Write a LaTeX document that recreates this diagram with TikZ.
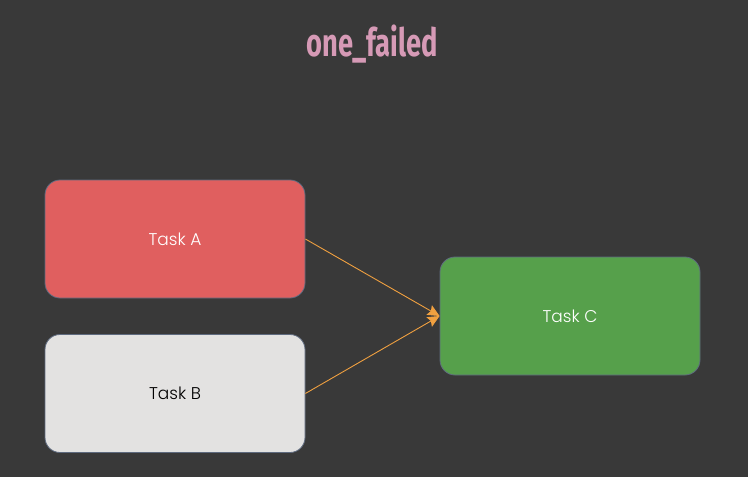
\documentclass[tikz,border=0pt]{standalone}
\usepackage{fontspec}
\setmainfont{Poppins}[UprightFont=* Light]
\newfontfamily\titlefont{Fira Sans}[UprightFont=* Bold, FakeStretch=0.7]
\usepackage{xcolor}
\usetikzlibrary{arrows.meta,positioning}

\definecolor{bgdark}{HTML}{393939}
\definecolor{failred}{HTML}{E05F5F}
\definecolor{idlegray}{HTML}{E3E2E1}
\definecolor{okgreen}{HTML}{56A04B}
\definecolor{taskedge}{HTML}{5E6A7E}
\definecolor{flowline}{HTML}{F0A040}
\definecolor{titlepink}{HTML}{D69AB6}

\tikzset{
    task/.style={draw=taskedge, line width=0.8pt, rounded corners=15pt,
        minimum width=260pt, minimum height=118pt, inner sep=0pt,
        font=\fontsize{17}{20}\selectfont},
    flow/.style={-{Stealth[length=12pt,width=11pt,inset=2pt]}, draw=flowline, line width=0.9pt}
}

\begin{document}
\begin{tikzpicture}[x=1pt,y=-1pt]

    % Achtergrond
    \fill[bgdark] (0,0) rectangle (748,477);
    \useasboundingbox (0,0) rectangle (748,477);

    % Titel
    \node[text=titlepink, font=\titlefont\fontsize{39}{42}\selectfont] (title) at (372,44) {one\_failed};

    % Taken
    \node[task, fill=failred, text=white] (taskA) at (175,239) {Task A};
    \node[task, fill=idlegray, text=black] (taskB) at (175,393.5) {Task B};
    \node[task, fill=okgreen, text=white] (taskC) at (570,316) {Task C};

    % Pijlen
    \draw[flow] (taskA.east) -- (taskC.west);
    \draw[flow] (taskB.east) -- (taskC.west);

\end{tikzpicture}
\end{document}
